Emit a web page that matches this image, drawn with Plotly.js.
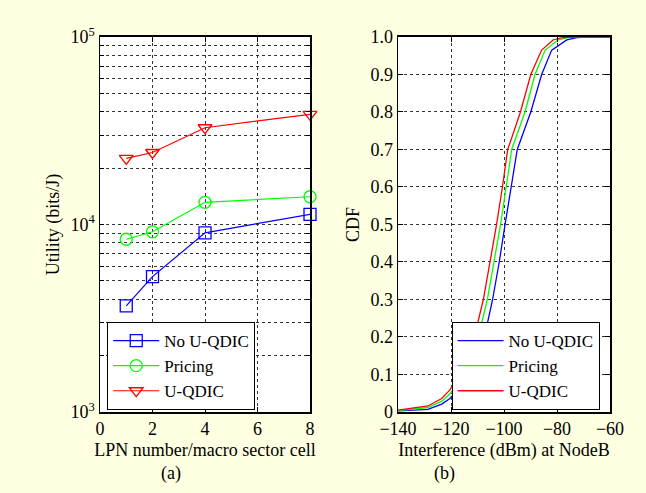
<!DOCTYPE html>
<html><head><meta charset="utf-8">
<script src="https://cdn.plot.ly/plotly-3.0.1.min.js"></script>
<style>body{margin:0;background:#FFFFE1}</style>
</head><body><div id="chart" style="width:646px;height:493px"></div>
<script>
// (a) Utility vs LPN number
const lpn = [1, 2, 4, 8];
const utilNoUQDIC = [3680, 5270, 9030, 11330];
const utilPricing = [8340, 9140, 13130, 14060];
const utilUQDIC = [22500, 24200, 32800, 38700];

// (b) CDF of interference
const intfUQDIC = [-140, -128.7, -123.5, -120.4, -115.5, -111.2, -107.8, -105.3, -102.8, -100.6, -98.6, -93.8, -89.9, -85.8, -81.5, -78, -72, -60];
const cdfUQDIC  = [0.005, 0.016, 0.036, 0.059, 0.12, 0.2, 0.3, 0.4, 0.5, 0.6, 0.7, 0.8, 0.9, 0.965, 0.992, 0.998, 1, 1];
const intfPricing = [-140, -128.7, -123.5, -120.4, -114, -109.7, -106.3, -103.7, -101.3, -99.2, -97.1, -92.1, -88.3, -84.5, -79.6, -76, -70, -60];
const cdfPricing  = [0.004, 0.012, 0.029, 0.048, 0.11, 0.2, 0.3, 0.4, 0.5, 0.6, 0.7, 0.8, 0.9, 0.965, 0.992, 0.998, 1, 1];
const intfNo = [-140, -128.7, -123.5, -120.4, -112, -107.4, -104.3, -101.8, -99.6, -97.3, -95.0, -89.9, -85.8, -82, -76.3, -72.5, -68, -60];
const cdfNo  = [0.003, 0.007, 0.021, 0.036, 0.1, 0.2, 0.3, 0.4, 0.5, 0.6, 0.7, 0.8, 0.9, 0.965, 0.992, 0.998, 1, 1];

const seriesNames = ['No U-QDIC', 'Pricing', 'U-QDIC'];
const colors = ['#0000FF', '#00FF00', '#FF0000'];

const logTickVals = [];
const logTickText = [];
[1000, 10000].forEach(d => { for (let k = 1; k <= 9; k++) { logTickVals.push(d * k); logTickText.push(k === 1 ? (d === 1000 ? '10<sup>3</sup>' : '10<sup>4</sup>') : ''); } });
logTickVals.push(100000); logTickText.push('10<sup>5</sup>');

const cdfTickVals = [0, 0.1, 0.2, 0.3, 0.4, 0.5, 0.6, 0.7, 0.8, 0.9, 1.0];
const cdfTickText = ['0', '0.1', '0.2', '0.3', '0.4', '0.5', '0.6', '0.7', '0.8', '0.9', '1.0'];

const font = {family: 'Liberation Serif, Times New Roman, serif', size: 18, color: '#000'};
const legendFont = {family: 'Liberation Serif, Times New Roman, serif', size: 17, color: '#000'};
const markers = ['square-open', 'circle-open', 'triangle-down-open'];
const utilData = [utilNoUQDIC, utilPricing, utilUQDIC];
const cdfX = [intfNo, intfPricing, intfUQDIC];
const cdfY = [cdfNo, cdfPricing, cdfUQDIC];

const traces = [];
for (let i = 0; i < 3; i++) {
  traces.push({x: lpn, y: utilData[i], name: seriesNames[i], type: 'scatter', mode: 'lines+markers',
    xaxis: 'x', yaxis: 'y', legend: 'legend', cliponaxis: false,
    line: {color: colors[i], width: 1.2}, marker: {symbol: markers[i], size: 12, color: colors[i], line: {width: 1.3, color: colors[i]}}});
}
for (let i = 0; i < 3; i++) {
  traces.push({x: cdfX[i], y: cdfY[i], name: seriesNames[i], type: 'scatter', mode: 'lines',
    xaxis: 'x2', yaxis: 'y2', legend: 'legend2',
    line: {color: colors[i], width: 1.3}});
}

const gridStyle = {showgrid: true, gridcolor: '#333', griddash: 'dot', gridwidth: 1,
  showline: true, linecolor: '#000', linewidth: 1.5, mirror: 'ticks', ticks: 'inside', ticklen: 5, tickcolor: '#000', zeroline: false, tickfont: font};

const layout = {
  width: 646, height: 493,
  paper_bgcolor: '#FFFFE1', plot_bgcolor: '#FFFFFF',
  margin: {l: 0, r: 0, t: 0, b: 0},
  font: font,
  showlegend: true,
  xaxis: Object.assign({}, gridStyle, {domain: [0.1548, 0.4799], range: [0, 8], tickvals: [0, 2, 4, 6, 8],
    title: {text: 'LPN number/macro sector cell', font: font, standoff: 5}, anchor: 'y'}),
  yaxis: Object.assign({}, gridStyle, {domain: [0.1643, 0.925], type: 'log', range: [3, 5],
    tickvals: logTickVals, ticktext: logTickText, ticklen: 4,
    title: {text: 'Utility (bits/J)', font: font, standoff: 6}, anchor: 'x'}),
  xaxis2: Object.assign({}, gridStyle, {domain: [0.6161, 0.9443], range: [-140, -60], tickvals: [-140, -120, -100, -80, -60],
    title: {text: 'Interference (dBm) at NodeB', font: font, standoff: 5}, anchor: 'y2'}),
  yaxis2: Object.assign({}, gridStyle, {domain: [0.1643, 0.925], range: [0, 1], tickvals: cdfTickVals, ticktext: cdfTickText,
    title: {text: 'CDF', font: font, standoff: 6}, anchor: 'x2'}),
  legend: {x: 0.166, y: 0.1684, xanchor: 'left', yanchor: 'bottom', bgcolor: '#FFFFFF', bordercolor: '#000', borderwidth: 1,
    font: legendFont, tracegroupgap: 0, itemwidth: 46},
  legend2: {x: 0.699, y: 0.1684, xanchor: 'left', yanchor: 'bottom', bgcolor: '#FFFFFF', bordercolor: '#000', borderwidth: 1,
    font: legendFont, tracegroupgap: 0, itemwidth: 46},
  annotations: [
    {text: '(a)', xref: 'paper', yref: 'paper', x: 0.246, y: 0.04, showarrow: false, font: font, yanchor: 'middle'},
    {text: '(b)', xref: 'paper', yref: 'paper', x: 0.707, y: 0.04, showarrow: false, font: font, yanchor: 'middle'}
  ]
};

Plotly.newPlot('chart', traces, layout, {displayModeBar: false, staticPlot: true});
</script></body></html>
